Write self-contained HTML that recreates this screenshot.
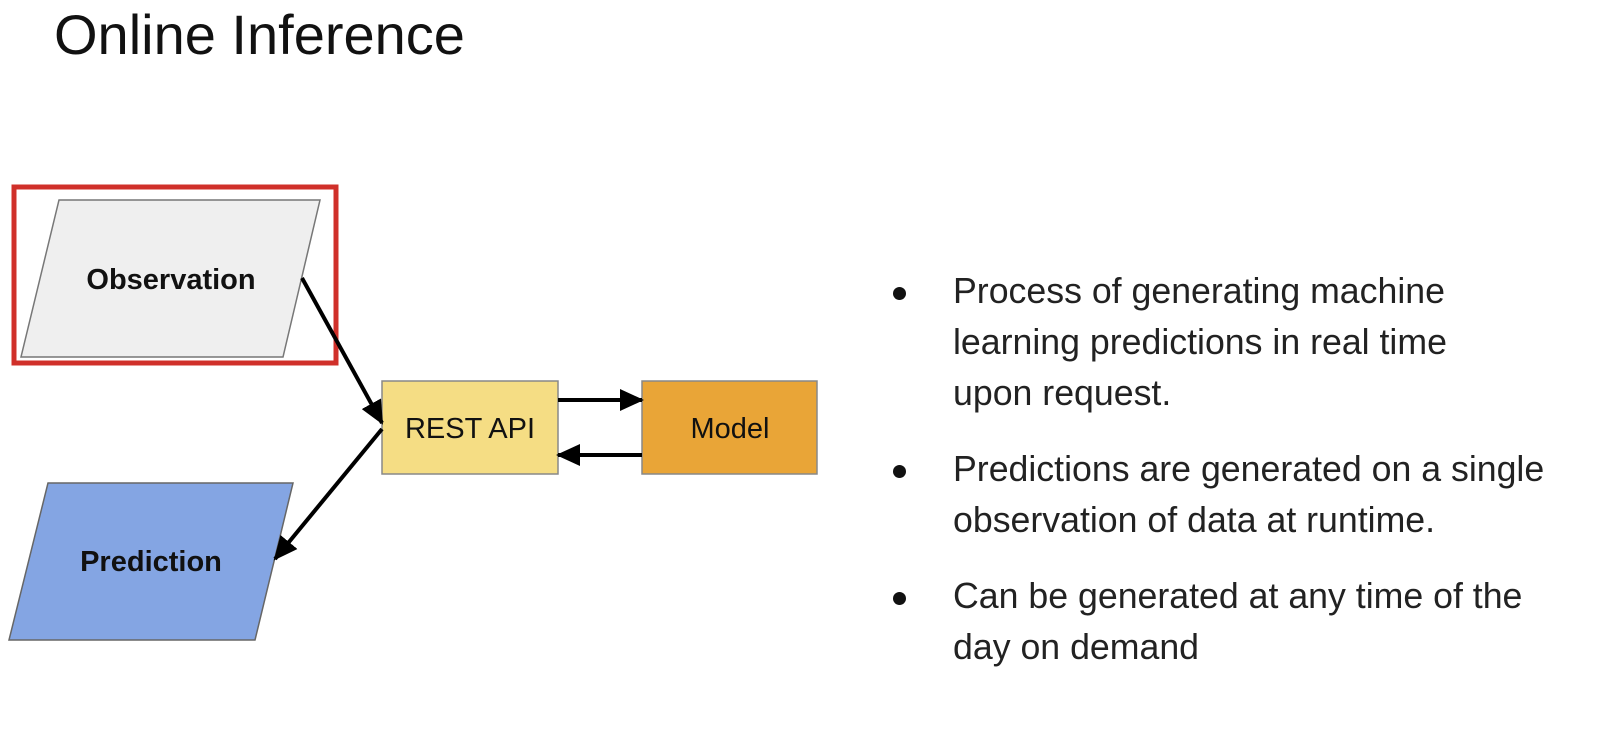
<!DOCTYPE html>
<html><head><meta charset="utf-8"><style>
html,body{margin:0;padding:0;background:#fff;}
body{width:1600px;height:732px;overflow:hidden;position:relative;font-family:"Liberation Sans",sans-serif;}
.t{position:absolute;left:54px;top:2px;font-size:56px;color:#111;}
ul{position:absolute;left:899px;top:266px;margin:0;padding:0;list-style:none;font-size:35.7px;color:#222;line-height:51px;}
li{position:relative;padding-left:54px;margin-bottom:25px;white-space:nowrap;}
li:before{content:"";position:absolute;left:-6px;top:21px;width:13px;height:13px;border-radius:50%;background:#111;}
svg{position:absolute;left:0;top:0;}
</style></head><body>
<div class="t">Online Inference</div>
<svg width="1600" height="732">
<defs><marker id="b" markerWidth="24" markerHeight="22" refX="22" refY="11" orient="auto" markerUnits="userSpaceOnUse"><path d="M0,0 L24,11 L0,22 z" fill="#000"/></marker></defs>
<rect x="14" y="187" width="322" height="176" fill="none" stroke="#d0302a" stroke-width="5"/>
<polygon points="59,200 320,200 283,357 21,357" fill="#efefef" stroke="#777" stroke-width="1.5"/>
<text x="171" y="289" font-size="29" font-weight="bold" text-anchor="middle" fill="#111">Observation</text>
<rect x="382" y="381" width="176" height="93" fill="#f5dd84" stroke="#888" stroke-width="1.5"/>
<text x="470" y="438" font-size="29" text-anchor="middle" fill="#111">REST API</text>
<rect x="642" y="381" width="175" height="93" fill="#e9a537" stroke="#888" stroke-width="1.5"/>
<text x="730" y="438" font-size="29" text-anchor="middle" fill="#111">Model</text>
<polygon points="48,483 293,483 255,640 9,640" fill="#84a5e3" stroke="#666" stroke-width="1.5"/>
<text x="151" y="571" font-size="29" font-weight="bold" text-anchor="middle" fill="#111">Prediction</text>
<g stroke="#000" stroke-width="4" fill="none">
<line x1="302" y1="278" x2="382" y2="423" marker-end="url(#b)"/>
<line x1="382" y1="429" x2="275" y2="559" marker-end="url(#b)"/>
<line x1="558" y1="400" x2="642" y2="400" marker-end="url(#b)"/>
<line x1="642" y1="455" x2="558" y2="455" marker-end="url(#b)"/>
</g>
</svg>
<ul>
<li>Process of generating machine<br>learning predictions in real time<br>upon request.</li>
<li>Predictions are generated on a single<br>observation of data at runtime.</li>
<li>Can be generated at any time of the<br>day on demand</li>
</ul>
</body></html>
